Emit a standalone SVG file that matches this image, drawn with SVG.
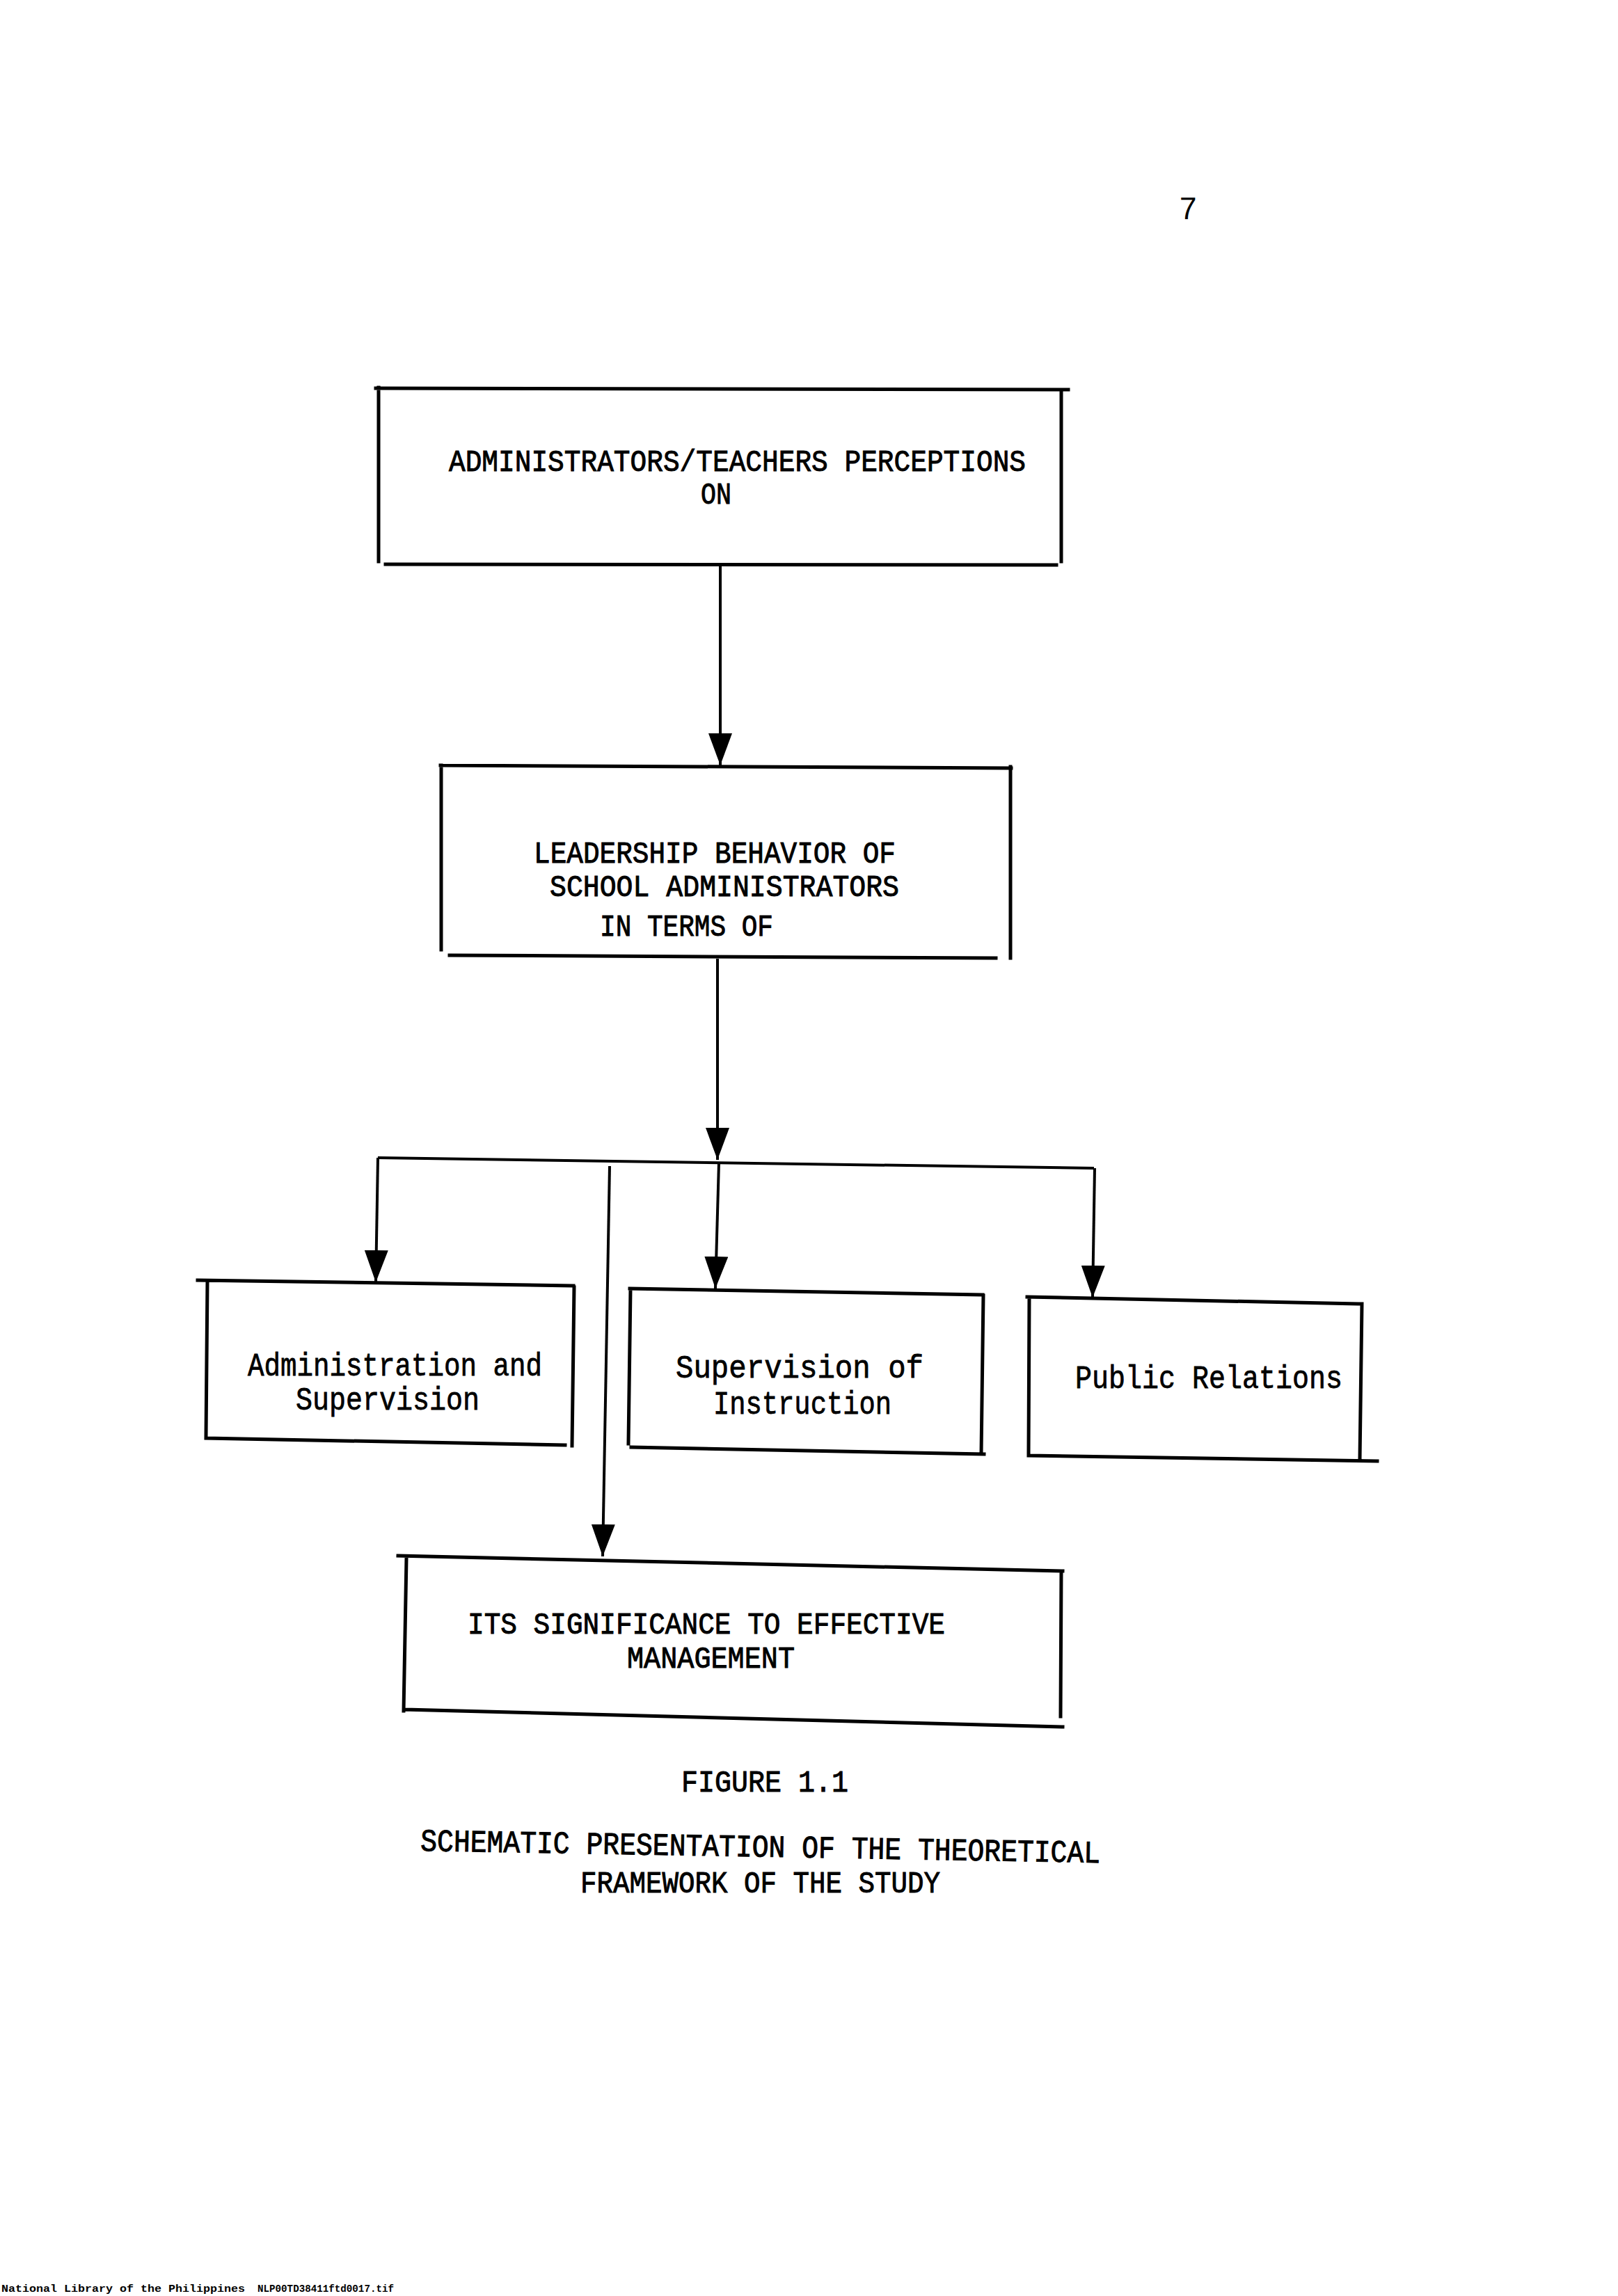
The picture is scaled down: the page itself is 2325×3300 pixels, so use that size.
<svg xmlns="http://www.w3.org/2000/svg" width="2325" height="3300" viewBox="0 0 2325 3300">
<defs>
<marker id="ah" markerUnits="userSpaceOnUse" markerWidth="46" markerHeight="34" refX="46" refY="17" orient="auto">
<path d="M0,0 L46,17 L0,34 Z" fill="#000"/>
</marker>
<style>
.box{fill:none;stroke:#000;stroke-width:5;stroke-linecap:square}
.con{fill:none;stroke:#000;stroke-width:4}
.cap{font-family:"Liberation Mono",monospace;font-size:45px;fill:#000;stroke:#000;stroke-width:1}
.low{font-family:"Liberation Mono",monospace;font-size:47px;fill:#000;stroke:#000;stroke-width:0.8}
.foot{font-family:"Liberation Mono",monospace;font-size:15px;font-weight:bold;fill:#000}
</style>
</defs>
<rect width="2325" height="3300" fill="#fff"/>
<text x="1695" y="315" font-family="Liberation Sans, sans-serif" font-size="44">7</text>
<g id="connectors">
<path class="con" d="M1035 812 L1035 1100" marker-end="url(#ah)"/>
<path class="con" d="M1031 1378 L1031 1667" marker-end="url(#ah)"/>
<path class="con" d="M543 1664 L1572 1679"/>
<path class="con" d="M543 1664 L540 1843" marker-end="url(#ah)"/>
<path class="con" d="M1033 1671 L1028 1852" marker-end="url(#ah)"/>
<path class="con" d="M1573 1679 L1570 1865" marker-end="url(#ah)"/>
<path class="con" d="M876 1676 L866 2237" marker-end="url(#ah)"/>
</g>
<g id="node-perceptions">
<path class="box" d="M540 558 L1535 560 M1525 563 L1525 807 M554 811 L1518 812 M544 557 L544 807"/>
<text class="cap" x="645" y="677" textLength="829" lengthAdjust="spacingAndGlyphs">ADMINISTRATORS/TEACHERS PERCEPTIONS</text>
<text class="cap" x="1007" y="724" textLength="44" lengthAdjust="spacingAndGlyphs">ON</text>
</g>
<g id="node-leadership">
<path class="box" d="M633 1100 L1453 1104 M1452 1102 L1452 1377 M646 1373 L1431 1377 M634 1100 L634 1365"/>
<text class="cap" x="767" y="1240" textLength="520" lengthAdjust="spacingAndGlyphs">LEADERSHIP BEHAVIOR OF</text>
<text class="cap" x="790" y="1288" textLength="502" lengthAdjust="spacingAndGlyphs">SCHOOL ADMINISTRATORS</text>
<text class="cap" x="862" y="1345" textLength="249" lengthAdjust="spacingAndGlyphs">IN TERMS OF</text>
</g>
<g id="node-admin">
<path class="box" d="M284 1840 L824 1848 M825 1850 L822 2078 M296 2067 L812 2077 M298 1842 L296 2065"/>
<text class="low" x="356" y="1977" textLength="423" lengthAdjust="spacingAndGlyphs">Administration and</text>
<text class="low" x="425" y="2026" textLength="264" lengthAdjust="spacingAndGlyphs">Supervision</text>
</g>
<g id="node-supervision">
<path class="box" d="M905 1852 L1412 1861 M1413 1862 L1410 2090 M907 2080 L1414 2090 M906 1853 L903 2075"/>
<text class="low" x="971" y="1980" textLength="356" lengthAdjust="spacingAndGlyphs">Supervision  of</text>
<text class="low" x="1025" y="2032" textLength="256" lengthAdjust="spacingAndGlyphs">Instruction</text>
</g>
<g id="node-public">
<path class="box" d="M1476 1864 L1952 1874 M1957 1874 L1954 2098 M1478 2092 L1979 2100 M1479 1867 L1478 2090"/>
<text class="low" x="1545" y="1995" textLength="384" lengthAdjust="spacingAndGlyphs">Public Relations</text>
</g>
<g id="node-significance">
<path class="box" d="M572 2236 L1527 2258 M1525 2258 L1524 2467 M582 2457 L1527 2482 M584 2240 L580 2459"/>
<text class="cap" x="672" y="2348" textLength="686" lengthAdjust="spacingAndGlyphs">ITS SIGNIFICANCE TO EFFECTIVE</text>
<text class="cap" x="901" y="2397" textLength="241" lengthAdjust="spacingAndGlyphs">MANAGEMENT</text>
</g>
<g id="caption">
<text class="cap" x="979" y="2575" textLength="240" lengthAdjust="spacingAndGlyphs">FIGURE 1.1</text>
<text class="cap" x="604" y="2660" textLength="977" lengthAdjust="spacingAndGlyphs" transform="rotate(1 604 2660)">SCHEMATIC PRESENTATION OF THE THEORETICAL</text>
<text class="cap" x="834" y="2720" textLength="517" lengthAdjust="spacingAndGlyphs">FRAMEWORK OF THE STUDY</text>
</g>
<text class="foot" x="2" y="3294" textLength="350" lengthAdjust="spacingAndGlyphs">National Library of the Philippines</text>
<text class="foot" x="370" y="3294" textLength="196" lengthAdjust="spacingAndGlyphs">NLP00TD38411ftd0017.tif</text>
</svg>
